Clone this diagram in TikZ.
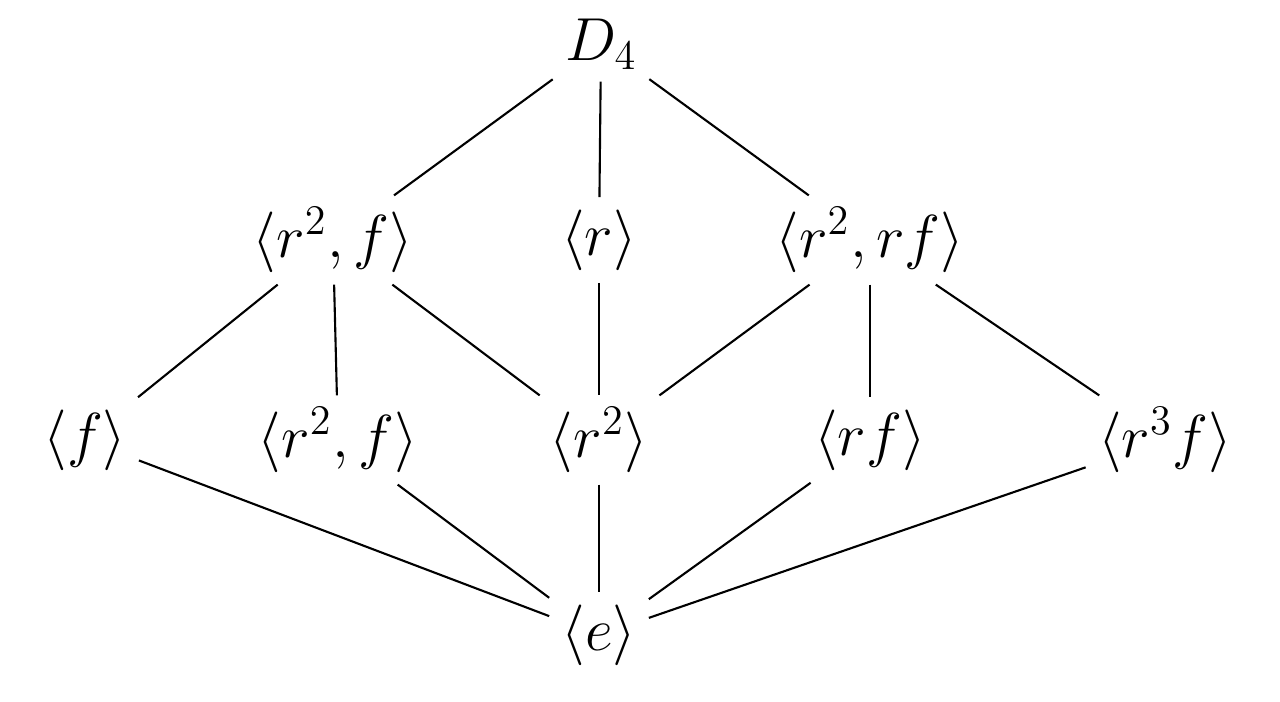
\documentclass[tikz,border=0pt]{standalone}
\begin{document}
\begin{tikzpicture}[font=\fontsize{16.8}{20}\selectfont]
      \useasboundingbox (0,0) rectangle (12.8,7.01);
      \draw
        (6.01,6.57) node (D4){$D_4$}
        (3.33,4.61) node (r2f){$\langle r^2, f\rangle$}
        (5.99,4.61) node (r){$\langle r\rangle$}
        (8.70,4.61) node (r2rf){$\langle r^2, rf\rangle$}
        (0.85,2.61) node (f){$\langle f\rangle$}
        (3.38,2.61) node (r2fb){$\langle r^2, f\rangle$}
        (5.99,2.61) node (r2){$\langle r^2\rangle$}
        (8.70,2.61) node (rf){$\langle rf\rangle$}
        (11.65,2.61) node (r3f){$\langle r^3f\rangle$}
        (5.99,0.66) node (e){$\langle e\rangle$};
      \begin{scope}[-, line width=0.6pt]
        \draw (D4) to (r2f);
        \draw (D4) to (r);
        \draw (D4) to (r2rf);
        \draw (r2f) to (f);
        \draw (r2f) to (r2fb);
        \draw (r2f) to (r2);
        \draw (r) to (r2);
        \draw (r2rf) to (r2);
        \draw (r2rf) to (rf);
        \draw (r2rf) to (r3f);
        \draw (f) to (e);
        \draw (r2fb) to (e);
        \draw (r2) to (e);
        \draw (rf) to (e);
        \draw (r3f) to (e);
      \end{scope}
    \end{tikzpicture}
\end{document}
